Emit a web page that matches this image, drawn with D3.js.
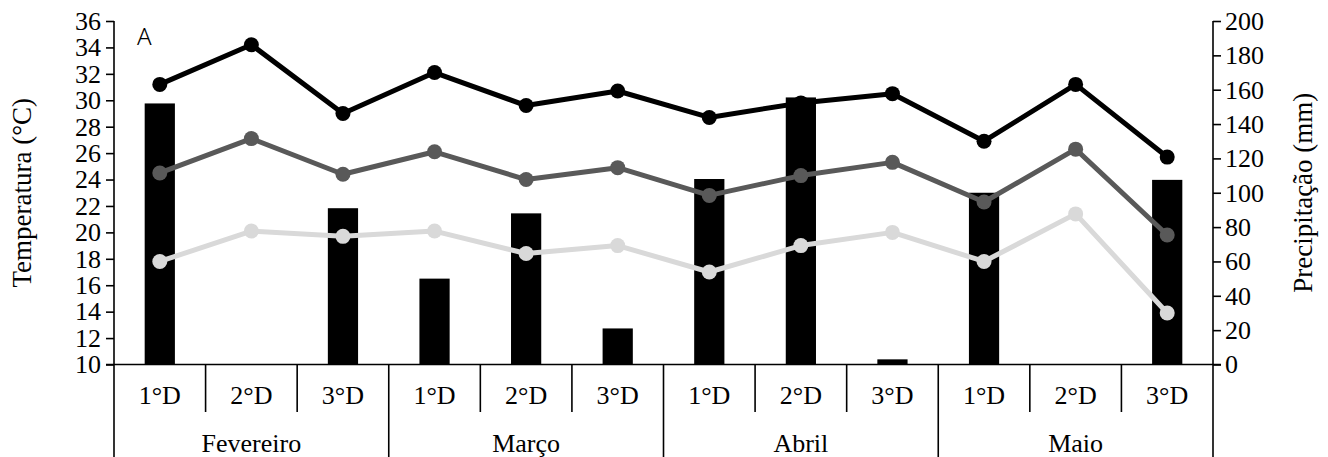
<!DOCTYPE html>
<html><head><meta charset="utf-8">
<script src="https://cdn.jsdelivr.net/npm/d3@7"></script>
<style>body{margin:0;background:#fff}svg{display:block}</style>
</head><body>
<svg id="c" width="1328" height="457"></svg>
<script>
const periods = ["1°D","2°D","3°D","1°D","2°D","3°D","1°D","2°D","3°D","1°D","2°D","3°D"];
const months = ["Fevereiro","Março","Abril","Maio"];
const precip = [152, 0, 91, 50, 88, 21, 108, 155.5, 3, 100, 0, 107.5];
const tmax = [31.2, 34.2, 29.0, 32.1, 29.6, 30.7, 28.7, 29.8, 30.5, 26.9, 31.2, 25.7];
const tmed = [24.5, 27.1, 24.4, 26.1, 24.0, 24.9, 22.8, 24.3, 25.3, 22.3, 26.3, 19.8];
const tmin = [17.8, 20.1, 19.7, 20.1, 18.4, 19.0, 17.0, 19.0, 20.0, 17.8, 21.4, 13.9];
const tempTicks = d3.range(10, 37, 2);
const precTicks = d3.range(0, 201, 20);

const svg = d3.select("#c");
const L = 114, R = 1213, T = 21, B = 364.5, H = 457;
const idx = d3.range(periods.length);
const x = d3.scaleBand().domain(idx).range([L, R]).paddingInner(0).paddingOuter(0);
const yT = d3.scaleLinear().domain([10, 36]).range([B, T]);
const yP = d3.scaleLinear().domain([0, 200]).range([B, T]);
const serif = "'Liberation Serif','Times New Roman',serif";
const FS = 26, TFS = 26;

// bars
svg.append("g").selectAll("rect").data(idx).join("rect")
  .attr("x", i => x(i) + x.bandwidth() * 0.335)
  .attr("width", x.bandwidth() * 0.33)
  .attr("y", i => yP(precip[i]))
  .attr("height", i => B - yP(precip[i]))
  .attr("fill", "#000");

// left axis
const gl = svg.append("g").attr("transform", `translate(${L},0)`)
  .call(d3.axisLeft(yT).tickValues(tempTicks).tickSize(8).tickPadding(5).tickSizeOuter(0));
gl.select(".domain").remove();
gl.selectAll("line").attr("stroke", "#000").attr("stroke-width", 1.6);
gl.selectAll("text").attr("font-family", serif).attr("font-size", TFS).attr("fill", "#000");
svg.append("line").attr("x1", L).attr("x2", L).attr("y1", T).attr("y2", H).attr("stroke", "#000").attr("stroke-width", 1.6);

// right axis
const gr = svg.append("g").attr("transform", `translate(${R},0)`)
  .call(d3.axisRight(yP).tickValues(precTicks).tickSize(8).tickPadding(4).tickSizeOuter(0));
gr.select(".domain").remove();
gr.selectAll("line").attr("stroke", "#000").attr("stroke-width", 1.6);
gr.selectAll("text").attr("font-family", serif).attr("font-size", TFS).attr("fill", "#000");
svg.append("line").attr("x1", R).attr("x2", R).attr("y1", T).attr("y2", H).attr("stroke", "#000").attr("stroke-width", 1.6);

// category axis
svg.append("line").attr("x1", L - 8).attr("x2", R + 8).attr("y1", B).attr("y2", B).attr("stroke", "#000").attr("stroke-width", 1.6);
const g = svg.append("g");
idx.forEach(i => {
  if (i > 0) {
    const bottom = (i % 3 === 0) ? H : 412;
    g.append("line").attr("x1", x(i)).attr("x2", x(i)).attr("y1", B).attr("y2", bottom).attr("stroke", "#000").attr("stroke-width", 1.6);
  }
  g.append("text").attr("x", x(i) + x.bandwidth() / 2).attr("y", 404)
    .attr("text-anchor", "middle").attr("font-family", serif).attr("font-size", FS).text(periods[i]);
});
months.forEach((m, j) => {
  const cx = (x(j * 3) + x(j * 3 + 2) + x.bandwidth()) / 2;
  g.append("text").attr("x", cx).attr("y", 452).attr("text-anchor", "middle")
    .attr("font-family", serif).attr("font-size", FS).text(m);
});

// lines
const series = [
  {data: tmin, color: "#d9d9d9"},
  {data: tmed, color: "#595959"},
  {data: tmax, color: "#000000"}
];
const line = d3.line().x(i => x(i) + x.bandwidth() / 2);
series.forEach(s => {
  svg.append("path").datum(idx)
    .attr("d", line.y(i => yT(s.data[i])))
    .attr("fill", "none").attr("stroke", s.color).attr("stroke-width", 5).attr("stroke-linejoin", "round");
  svg.append("g").selectAll("circle").data(idx).join("circle")
    .attr("cx", i => x(i) + x.bandwidth() / 2).attr("cy", i => yT(s.data[i]))
    .attr("r", 7.5).attr("fill", s.color);
});

// axis titles
svg.append("text").attr("transform", `translate(31,${(T + B) / 2}) rotate(-90)`)
  .attr("text-anchor", "middle").attr("font-family", serif).attr("font-size", 27).text("Temperatura (°C)");
svg.append("text").attr("transform", `translate(1312,${(T + B) / 2}) rotate(-90)`)
  .attr("text-anchor", "middle").attr("font-family", serif).attr("font-size", 27).text("Precipitação (mm)");

// panel label
svg.append("text").attr("x", 137).attr("y", 45).attr("font-family", "'Noto Sans',sans-serif")
  .attr("font-size", 24).attr("font-weight", 300).text("A");
</script>
</body></html>
